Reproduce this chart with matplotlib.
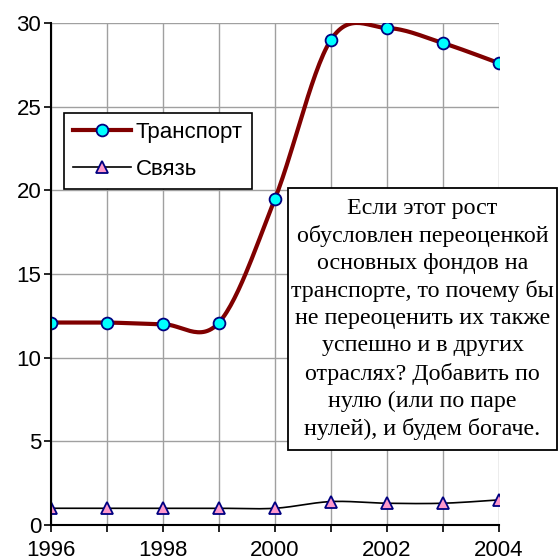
import numpy as np
import matplotlib
matplotlib.use("Agg")
import matplotlib.pyplot as plt
from matplotlib.patches import Rectangle

years = [1996, 1997, 1998, 1999, 2000, 2001, 2002, 2003, 2004]
transport = [12.1, 12.1, 12.0, 12.1, 19.5, 29.0, 29.7, 28.8, 27.6]
svyaz = [1.0, 1.0, 1.0, 1.0, 1.0, 1.4, 1.3, 1.3, 1.5]
note = ("Если этот рост\nобусловлен переоценкой\nосновных фондов на\n"
        "транспорте, то почему бы\nне переоценить их также\nуспешно и в других\n"
        "отраслях? Добавить по\nнулю (или по паре\nнулей), и будем богаче.")


def smooth(x, y, n=30):
    # excel-like smoothed line (catmull-rom as bezier)
    x = np.asarray(x, float)
    y = np.asarray(y, float)
    px = np.concatenate([[x[0]], x, [x[-1]]])
    py = np.concatenate([[y[0]], y, [y[-1]]])
    xs, ys = [], []
    t = np.linspace(0, 1, n)
    for i in range(1, len(px) - 2):
        p0 = np.array([px[i], py[i]])
        p3 = np.array([px[i + 1], py[i + 1]])
        c1 = p0 + (np.array([px[i + 1], py[i + 1]]) - np.array([px[i - 1], py[i - 1]])) / 6
        c2 = p3 - (np.array([px[i + 2], py[i + 2]]) - np.array([px[i], py[i]])) / 6
        b = ((1 - t) ** 3)[:, None] * p0 + (3 * (1 - t) ** 2 * t)[:, None] * c1 \
            + (3 * (1 - t) * t ** 2)[:, None] * c2 + (t ** 3)[:, None] * p3
        xs.extend(b[:, 0])
        ys.extend(b[:, 1])
    return xs, ys


plt.rcParams['font.family'] = ['Liberation Sans', 'DejaVu Sans']
fig = plt.figure(figsize=(5.6, 5.6), dpi=100)
ax = fig.add_axes([51 / 560, 35 / 560, 448 / 560, 502 / 560])

sx, sy = smooth(years, transport)
ax.plot(sx, sy, color='#800000', lw=3, zorder=3)
ax.plot(years, transport, ls='none', marker='o', ms=8.5, mfc='#00ffff', mec='#000080', mew=1.3, zorder=4)
cx, cy = smooth(years, svyaz)
ax.plot(cx, cy, color='black', lw=1.2, zorder=3)
ax.plot(years, svyaz, ls='none', marker='^', ms=9, mfc='#ff99cc', mec='#000080', mew=1.3, zorder=4)

h1, = ax.plot([], [], color='#800000', lw=3, marker='o', ms=8.5, mfc='#00ffff', mec='#000080', mew=1.3)
h2, = ax.plot([], [], color='black', lw=1.2, marker='^', ms=9, mfc='#ff99cc', mec='#000080', mew=1.3)
leg = ax.legend([h1, h2], ['Транспорт', 'Связь'], loc='upper left',
                bbox_to_anchor=(0.029, 0.821), borderaxespad=0, fontsize=16,
                handlelength=2.6, labelspacing=0.7, handletextpad=0.2,
                borderpad=0.42, fancybox=False, framealpha=1, edgecolor='black')
leg.get_frame().set_linewidth(1.2)

ax.set_xlim(1996, 2004)
ax.set_ylim(0, 30)
ax.set_xticks(years)
ax.set_xticklabels([str(y) if y % 2 == 0 else '' for y in years])
ax.set_yticks(range(0, 31, 5))
ax.tick_params(direction='out', length=5, width=1.2, labelsize=16, pad=2)
ax.tick_params(axis='x', pad=6)
ax.grid(True, color='#a0a0a0', lw=1)
ax.set_axisbelow(True)
for s in ['top', 'right']:
    ax.spines[s].set_visible(False)
for s in ['left', 'bottom']:
    ax.spines[s].set_linewidth(1.5)
    ax.spines[s].set_zorder(5)

fig.patches.append(Rectangle((288 / 560, 110 / 560), 269 / 560, 262 / 560,
                             transform=fig.transFigure, facecolor='white',
                             edgecolor='black', lw=1.3, zorder=6))
fig.text(422.5 / 560, 241 / 560, note, ha='center', va='center', fontsize=17.3,
         family=['Liberation Serif', 'DejaVu Serif'], linespacing=1.37, zorder=7)

fig.savefig('out.png', dpi=100)
